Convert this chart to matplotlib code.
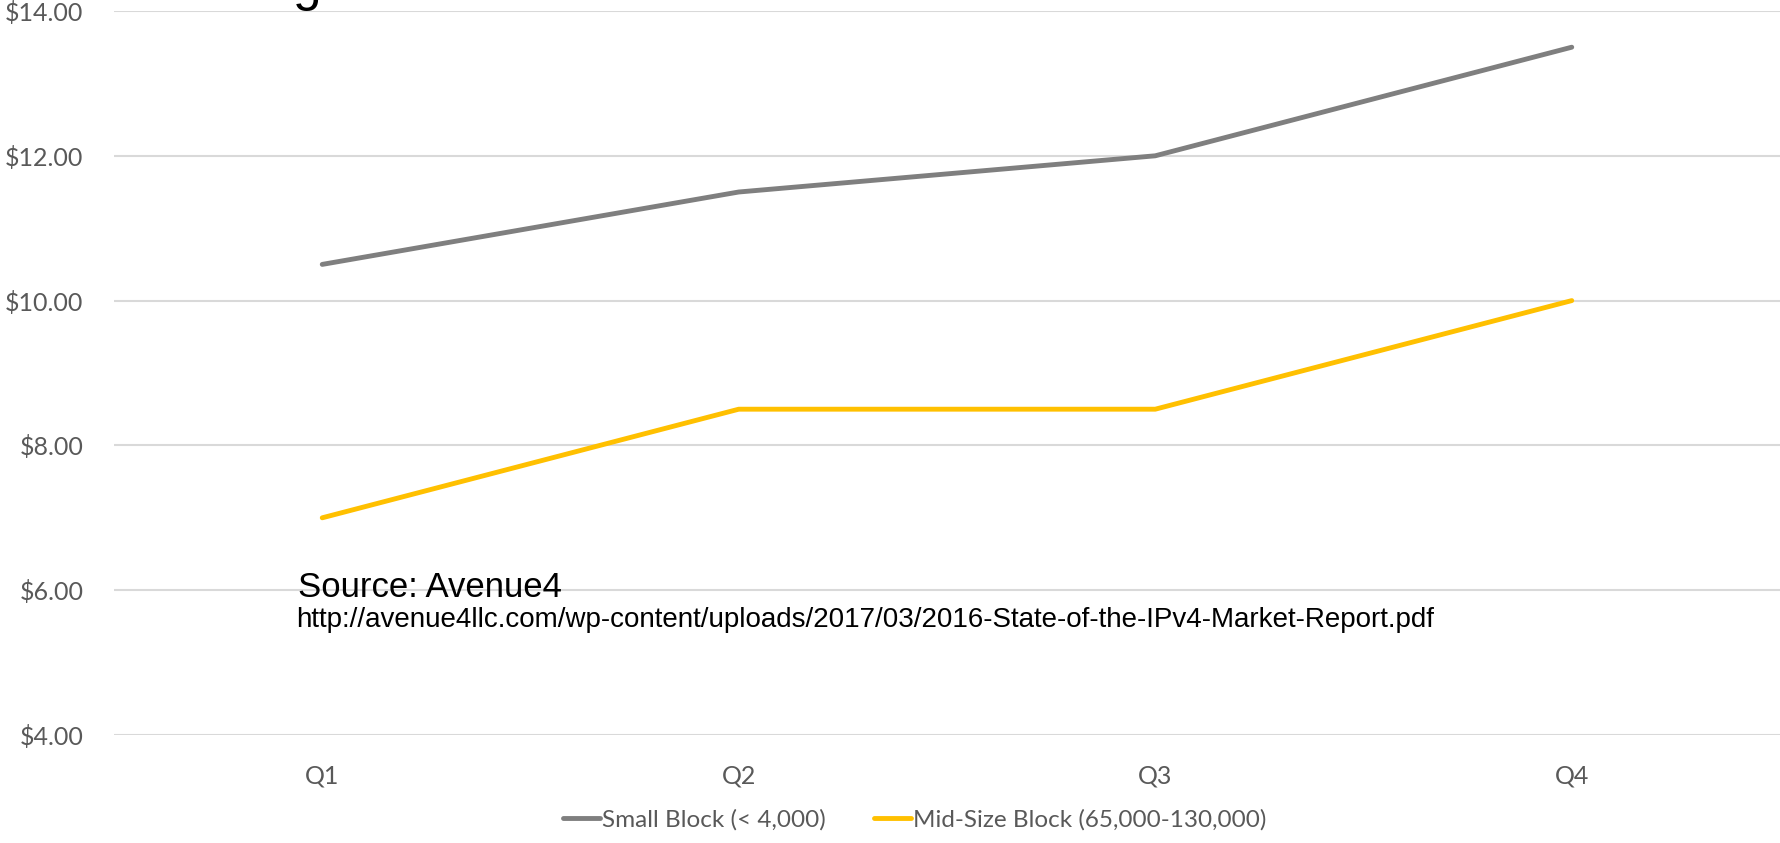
import matplotlib
matplotlib.use("Agg")
import matplotlib.pyplot as plt
import numpy as np

quarters = ["Q1", "Q2", "Q3", "Q4"]
small_block = [10.5, 11.5, 12.0, 13.5]
mid_block = [7.0, 8.5, 8.5, 10.0]
series_labels = ["Small Block (< 4,000)", "Mid-Size Block (65,000-130,000)"]
yticks = [4, 6, 8, 10, 12, 14]

GRAY = "#7f7f7f"
GOLD = "#ffc000"
TICK = "#595959"

fig = plt.figure(figsize=(17.81, 8.43), dpi=100)
ax = fig.add_axes([114 / 1781, 1 - 735 / 843, (1780 - 114) / 1781, (735 - 11) / 843])

x = np.arange(len(quarters))
ax.plot(x, small_block, color=GRAY, lw=3.5, solid_capstyle="round", label=series_labels[0], zorder=3)
ax.plot(x, mid_block, color=GOLD, lw=3.5, solid_capstyle="round", label=series_labels[1], zorder=3)

ax.set_xlim(-0.5, len(quarters) - 0.5)
ax.set_ylim(4, 14)
ax.set_yticks(yticks)
ax.set_yticklabels([f"${v:.2f}" for v in yticks])
ax.set_xticks(x)
ax.set_xticklabels(quarters)
ax.tick_params(axis="both", length=0, colors=TICK, labelsize=18)
ax.tick_params(axis="y", pad=22)
ax.tick_params(axis="x", pad=21)
for lab in ax.get_xticklabels() + ax.get_yticklabels():
    lab.set_fontfamily("Lato")
ax.grid(axis="y", color="#d9d9d9", lw=1.5)
ax.set_axisbelow(True)
for s in ax.spines.values():
    s.set_visible(False)

leg = ax.legend(loc="center", bbox_to_anchor=(915 / 1781, 1 - 820 / 843),
                bbox_transform=fig.transFigure, ncol=2, frameon=False,
                handlelength=1.5, handletextpad=0.1, columnspacing=2.0,
                prop={"family": "Lato", "size": 17.5})
for t in leg.get_texts():
    t.set_color(TICK)

# cut-off title (only the descender of a "g" is visible)
fig.text(293 / 1781, 1.0, "g", fontsize=37, family="Liberation Sans", va="baseline", ha="left")

fig.text(298 / 1781, 1 - 597 / 843, "Source: Avenue4", fontsize=25,
         family="Liberation Sans", va="baseline", ha="left")
fig.text(296 / 1781, 1 - 627 / 843,
         "http://avenue4llc.com/wp-content/uploads/2017/03/2016-State-of-the-IPv4-Market-Report.pdf",
         fontsize=20, family="Liberation Sans", va="baseline", ha="left")

fig.savefig("out.png", dpi=100)
